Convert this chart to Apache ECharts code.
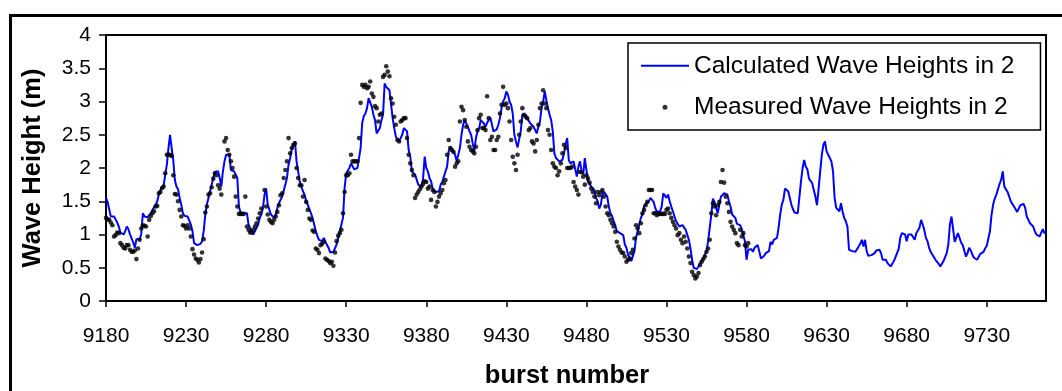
<!DOCTYPE html>
<html>
<head>
<meta charset="utf-8">
<script src="https://cdn.jsdelivr.net/npm/echarts@6/dist/echarts.min.js"></script>
<style>
  html, body { margin: 0; padding: 0; background: #fff; }
  #chart { width: 1062px; height: 391px; }
</style>
</head>
<body>
<div id="chart"></div>
<script>
// Burst numbers: one category per burst, 9180 .. 9767
const firstBurst = 9180;
const lastBurst = 9767;

// Calculated wave heights (m), one value per burst from 9180
const calculated = [
  1.55,1.49,1.49,1.27,1.27,1.27,1.25,1.18,1.12,1.03,
  1.02,1.0,1.05,1.12,1.08,1.0,0.98,0.88,0.8,0.93,
  0.95,0.93,1.0,1.32,1.27,1.27,1.26,1.27,1.32,1.37,
  1.4,1.45,1.5,1.6,1.67,1.7,1.74,1.9,2.05,2.3,
  2.5,2.3,2.12,1.82,1.72,1.68,1.55,1.45,1.32,1.28,
  1.27,1.27,1.27,1.15,1.05,0.87,0.85,0.84,0.84,0.86,
  0.9,1.05,1.3,1.45,1.55,1.65,1.75,1.85,1.94,1.95,
  1.95,1.85,1.72,1.95,2.1,2.2,2.22,2.2,1.97,1.97,
  1.95,1.9,1.85,1.42,1.33,1.32,1.32,1.32,1.32,1.15,
  1.1,1.05,1.0,1.0,1.1,1.15,1.25,1.3,1.4,1.6,
  1.69,1.45,1.42,1.3,1.27,1.25,1.3,1.4,1.47,1.52,
  1.57,1.6,1.75,1.85,2.05,2.15,2.28,2.35,2.4,2.1,
  1.95,1.8,1.72,1.65,1.6,1.5,1.45,1.38,1.32,1.25,
  1.15,1.05,0.98,0.92,0.89,0.9,0.95,0.92,0.84,0.8,
  0.73,0.73,0.74,0.77,0.85,0.95,1.05,1.15,1.25,1.7,
  1.92,1.9,2.0,2.07,2.05,1.98,1.96,2.0,2.02,2.3,
  2.68,2.78,2.82,2.9,3.05,3.02,2.92,2.8,2.72,2.52,
  2.5,2.6,2.72,2.8,3.27,3.22,3.2,3.17,3.15,2.75,
  2.6,2.47,2.45,2.4,2.42,2.5,2.6,2.6,2.55,2.27,
  2.17,1.95,1.92,1.9,1.88,1.75,1.72,1.72,1.84,2.17,
  2.0,1.95,1.85,1.8,1.69,1.67,1.64,1.64,1.65,1.75,
  1.79,1.87,1.95,2.02,2.25,2.32,2.3,2.25,2.2,2.1,
  2.1,2.3,2.5,2.65,2.72,2.7,2.62,2.55,2.5,2.37,
  2.25,2.45,2.55,2.6,2.72,2.7,2.67,2.62,2.68,2.72,
  2.76,2.75,2.55,2.55,2.58,2.65,2.75,2.9,3.0,3.05,
  3.15,3.1,3.0,2.95,2.82,2.5,2.4,2.31,2.3,2.55,
  2.8,2.82,2.8,2.75,2.72,2.67,2.64,2.62,2.6,2.52,
  2.62,2.7,2.9,3.0,3.15,3.02,2.9,2.8,2.72,2.55,
  2.22,2.15,2.12,2.1,2.12,2.12,2.22,2.35,2.45,2.12,
  2.07,2.07,2.1,2.12,1.87,2.02,2.1,1.95,1.9,2.15,
  1.97,1.8,1.77,1.72,1.7,1.67,1.55,1.5,1.39,1.45,
  1.6,1.64,1.62,1.57,1.42,1.32,1.28,1.2,1.14,1.05,
  1.02,1.02,1.0,0.99,0.85,0.8,0.7,0.65,0.6,0.59,
  0.75,0.95,1.05,1.15,1.25,1.3,1.42,1.46,1.48,1.5,
  1.55,1.57,1.49,1.4,1.34,1.34,1.35,1.42,1.62,1.62,
  1.55,1.6,1.5,1.42,1.35,1.27,1.2,1.17,1.12,1.12,
  1.14,1.12,1.07,1.05,0.92,0.79,0.62,0.5,0.47,0.48,
  0.52,0.57,0.6,0.64,0.7,0.75,0.9,1.1,1.3,1.54,
  1.49,1.4,1.32,1.45,1.57,1.59,1.62,1.62,1.6,1.5,
  1.42,1.3,1.27,1.25,1.16,1.14,1.14,1.08,1.07,0.9,
  0.62,0.77,0.79,0.78,0.74,0.8,0.83,0.84,0.84,0.64,
  0.67,0.68,0.72,0.74,0.75,0.89,0.85,0.92,0.9,0.95,
  1.1,1.3,1.45,1.52,1.69,1.68,1.65,1.62,1.45,1.38,
  1.33,1.32,1.32,1.34,1.8,2.0,2.12,2.02,1.98,1.84,
  1.87,1.77,1.67,1.57,1.44,1.69,1.95,2.2,2.35,2.4,
  2.25,2.22,2.15,2.1,1.95,1.55,1.4,1.39,1.35,1.47,
  1.34,1.25,1.2,1.12,0.77,0.74,0.75,0.78,0.74,0.76,
  0.82,0.86,0.92,0.82,0.92,0.75,0.68,0.67,0.69,0.7,
  0.72,0.76,0.77,0.77,0.72,0.62,0.6,0.62,0.57,0.54,
  0.52,0.56,0.6,0.66,0.72,0.78,0.95,1.02,1.04,1.0,
  0.9,1.0,0.97,1.0,1.02,0.92,1.02,1.04,1.1,1.22,
  1.15,1.07,0.95,0.9,0.8,0.74,0.7,0.66,0.62,0.6,
  0.56,0.52,0.53,0.6,0.66,0.72,0.85,1.15,1.27,1.25,
  0.89,0.92,1.02,1.03,0.88,0.84,0.82,0.67,0.72,0.8,
  0.76,0.7,0.65,0.62,0.62,0.62,0.71,0.72,0.74,0.79,
  0.83,0.86,1.05,1.3,1.45,1.54,1.6,1.68,1.76,1.82,
  1.95,1.72,1.73,1.64,1.62,1.5,1.46,1.42,1.38,1.34,
  1.32,1.44,1.47,1.46,1.4,1.27,1.22,1.17,1.15,1.12,
  1.05,1.0,1.0,0.97,0.97,1.08,1.02,1.04
];

// Measured wave heights (m), one value per burst from 9180 (null = no record)
const measured = [
  1.25,1.23,1.22,1.18,1.14,0.97,0.99,1.03,1.02,0.87,
  0.84,0.8,0.79,0.84,0.84,0.77,0.74,0.74,0.76,0.63,
  0.79,0.92,1.09,1.14,1.13,1.12,0.97,1.22,1.28,1.32,
  1.35,1.42,1.43,1.62,1.64,1.7,1.72,1.92,2.2,2.2,
  2.2,2.18,1.89,1.61,1.6,1.5,1.37,1.27,1.14,1.13,
  1.09,1.14,1.09,0.97,0.78,0.7,0.64,0.62,0.58,0.63,
  0.73,0.93,1.33,1.42,1.6,1.62,1.71,1.84,1.92,1.89,
  1.74,1.69,1.6,null,2.4,2.45,2.27,2.2,2.1,2.0,
  1.87,1.57,1.42,1.31,1.31,1.31,1.31,1.57,1.12,1.07,
  1.03,1.03,1.07,1.12,1.17,1.24,1.32,1.39,null,1.67,
  1.42,1.3,1.22,1.19,1.17,1.22,1.27,1.34,1.44,1.59,
  1.62,1.85,1.97,2.1,2.45,2.22,2.3,2.35,2.37,2.0,
  1.85,1.74,1.74,1.57,1.82,1.49,1.37,1.24,1.22,1.06,
  1.04,0.79,0.77,0.72,0.84,0.86,0.89,0.64,0.62,0.6,
  0.57,0.59,0.53,0.73,0.9,0.98,1.02,1.07,1.32,1.64,
  1.89,1.89,1.92,2.2,2.1,2.1,2.1,2.1,2.45,2.98,
  3.25,3.22,3.25,3.2,3.22,3.3,3.12,3.07,2.93,2.9,
  2.7,2.8,2.82,3.37,3.4,3.53,3.45,3.38,3.05,2.97,
  2.77,2.65,2.42,2.4,2.7,2.72,2.75,2.75,2.45,2.2,
  2.07,1.97,1.89,1.55,1.6,1.64,1.68,1.72,1.76,1.8,
  1.79,1.69,1.72,1.52,1.67,1.64,1.42,1.49,1.57,1.62,
  1.67,1.77,1.82,2.2,2.42,2.3,2.27,2.24,2.02,2.07,
  2.1,2.7,2.92,2.87,2.72,2.62,2.4,2.32,2.27,2.25,
  2.22,2.32,2.57,2.75,2.8,2.6,2.6,2.57,3.08,2.75,
  2.42,2.47,2.27,2.27,2.42,2.47,2.82,2.95,3.22,2.95,
  2.97,2.9,2.7,2.42,2.17,2.07,1.97,2.2,2.5,2.7,
  2.9,2.8,2.77,2.75,2.57,2.6,2.4,2.37,2.25,2.42,
  2.65,2.9,2.97,3.17,2.97,2.9,2.57,2.5,2.27,2.07,
  2.02,2.0,1.89,1.95,2.07,2.22,2.35,2.3,2.0,2.0,
  2.0,2.02,1.79,1.72,1.67,1.6,1.94,1.94,1.87,1.75,
  1.89,1.84,1.78,1.69,1.64,1.57,1.47,1.64,1.59,1.64,
  1.67,1.57,1.42,1.32,1.29,1.22,1.17,1.12,1.04,0.89,
  0.82,0.77,0.73,0.72,0.67,0.59,0.62,0.64,0.72,0.77,
  0.94,1.14,1.09,1.02,1.17,1.32,1.37,1.44,1.49,1.67,
  1.67,1.67,1.32,1.32,1.29,1.31,1.31,1.31,1.31,1.31,
  1.37,1.39,1.32,1.25,1.19,1.14,1.09,0.99,1.02,0.92,
  0.87,0.97,0.89,0.79,0.67,0.57,0.44,0.39,0.34,0.37,
  0.42,0.54,0.59,0.63,0.67,0.74,0.79,0.92,1.32,1.47,
  1.42,1.29,1.44,1.49,1.79,1.97,1.78,1.57,1.47,1.34,
  1.19,1.12,1.07,1.02,0.87,0.84,1.07,0.97,1.02,0.84,
  0.82,0.87
];

const calcName = 'Calculated Wave Heights in 2';
const measName = 'Measured Wave Heights in 2';
const xTitle = 'burst number';
const yTitle = 'Wave Height (m)';

const bursts = [];
for (let b = firstBurst; b <= lastBurst; b++) bursts.push(String(b));

const measuredPoints = [];
measured.forEach(function (v, i) {
  if (v !== null) measuredPoints.push([i, v]);
});

const FONT = 'Arial, "Liberation Sans", sans-serif';

const chart = echarts.init(document.getElementById('chart'), null, { renderer: 'canvas' });
chart.setOption({
  animation: false,
  backgroundColor: '#fff',
  textStyle: { fontFamily: FONT, color: '#000' },
  graphic: [{
    type: 'rect',
    shape: { x: 10.5, y: 15.5, width: 1100, height: 500 },
    style: { fill: null, stroke: '#000', lineWidth: 3 },
    silent: true
  }],
  grid: {
    left: 106, right: 16, top: 35, bottom: 90,
    outerBoundsMode: 'none',
    containLabel: false,
    show: true, borderColor: '#000', borderWidth: 2, backgroundColor: 'transparent'
  },
  legend: {
    orient: 'vertical',
    left: 628, top: 43,
    itemWidth: 48, itemHeight: 5,
    itemGap: 16.5,
    padding: [10.25, 26, 10.25, 12],
    borderColor: '#000', borderWidth: 1.5, backgroundColor: '#fff',
    textStyle: { fontFamily: FONT, fontSize: 24.5, color: '#000' },
    data: [
      { name: calcName, itemStyle: { opacity: 0 } },
      { name: measName }
    ]
  },
  xAxis: {
    type: 'category',
    data: bursts,
    boundaryGap: false,
    name: xTitle,
    nameLocation: 'middle',
    nameGap: 62,
    nameTextStyle: { fontFamily: FONT, fontSize: 25.5, fontWeight: 'bold', color: '#000', padding: [0, 18, 0, 0] },
    axisLine: { lineStyle: { color: '#000', width: 2 } },
    axisTick: { show: true, interval: 49, length: 6, lineStyle: { color: '#000', width: 1.5 } },
    axisLabel: { interval: 49, margin: 25, fontFamily: FONT, fontSize: 21, color: '#000' },
    splitLine: { show: false }
  },
  yAxis: {
    type: 'value',
    min: 0, max: 4, interval: 0.5,
    name: yTitle,
    nameLocation: 'middle',
    nameGap: 60,
    nameTextStyle: { fontFamily: FONT, fontSize: 25.5, fontWeight: 'bold', color: '#000' },
    axisLine: { show: true, lineStyle: { color: '#000', width: 2 } },
    axisTick: { show: true, length: 7, lineStyle: { color: '#000', width: 1.5 } },
    axisLabel: { margin: 15, fontFamily: FONT, fontSize: 21, color: '#000', padding: [4, 0, 0, 0] },
    splitLine: { show: false }
  },
  series: [
    {
      name: calcName,
      type: 'line',
      data: calculated,
      symbol: 'none',
      lineStyle: { color: '#0000ff', width: 2 },
      itemStyle: { color: '#0000ff' },
      z: 2
    },
    {
      name: measName,
      type: 'scatter',
      data: measuredPoints,
      symbol: 'circle',
      symbolSize: 4.6,
      itemStyle: { color: '#000' },
      z: 3
    }
  ]
});
</script>
</body>
</html>
